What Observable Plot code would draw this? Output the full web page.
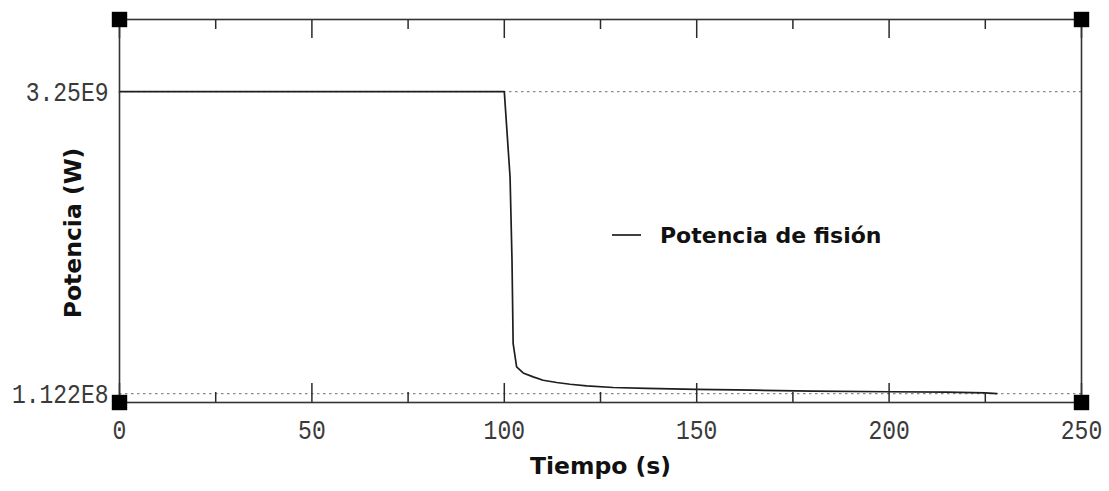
<!DOCTYPE html>
<html>
<head>
<meta charset="utf-8">
<script src="https://cdn.jsdelivr.net/npm/d3@7"></script>
<script src="https://cdn.jsdelivr.net/npm/@observablehq/plot@0.6"></script>
<style>
  body { margin: 0; background: #fff; }
  #chart { position: relative; width: 1109px; height: 491px; }
  #legend { position: absolute; left: 600px; top: 215px; }
</style>
</head>
<body>
<div id="chart"></div>
<script>
// Fission power transient: time (s) and power (W)
const tiempo = [0, 100, 101.5, 102.0, 102.3, 103.2, 104.9, 107.5, 110.1, 113.6, 117.1, 121.4, 128.3, 137, 150, 165, 180, 200, 215, 225, 228];
const potencia = [3.25e9, 3.25e9, 2.36e9, 1.5e9, 6.3e8, 3.89e8, 3.26e8, 2.85e8, 2.5e8, 2.27e8, 2.09e8, 1.91e8, 1.75e8, 1.66e8, 1.55e8, 1.47e8, 1.38e8, 1.31e8, 1.27e8, 1.2e8, 1.122e8];

const xTicks = [0, 50, 100, 150, 200, 250];
const xMinorTicks = [25, 75, 125, 175, 225];
const yTicks = [1.122e8, 3.25e9];
const yTickLabels = ["1.122E8", "3.25E9"];

const serieNombre = "Potencia de fisión";
const xTitulo = "Tiempo (s)";
const yTitulo = "Potencia (W)";

const data = tiempo.map((t, i) => ({t, p: potencia[i]}));

const W = 1109, H = 491;
const mt = 19, mb = 89, ml = 119, mr = 28;
const innerH = H - mt - mb;

const titleFont = {fontFamily: "DejaVu Sans", fontWeight: "bold", fontSize: 23.5, fill: "#111"};
const tickFont = {fontFamily: "Liberation Mono", fontSize: 28, fill: "#3a3a3a"};
const ink = "#2a2a2a";

const corner = (anchor) => Plot.dot([0], {frameAnchor: anchor, symbol: "square", r: 8.7, fill: "#000", stroke: "none"});

const plot = Plot.plot({
  width: W,
  height: H,
  marginTop: mt,
  marginBottom: mb,
  marginLeft: ml,
  marginRight: mr,
  style: {background: "#fff"},
  x: {domain: [0, 250]},
  y: {domain: [1.9e7, 4.0e9]},
  marks: [
    // dotted reference lines at the extreme values
    Plot.ruleY(yTicks, {stroke: "#8a8a8a", strokeWidth: 1.2, strokeDasharray: "2.5,3.5"}),
    Plot.line(data, {x: "t", y: "p", stroke: "#1e1e1e", strokeWidth: 1.7}),
    // inward ticks on bottom and top edges
    Plot.ruleX(xTicks, {stroke: ink, strokeWidth: 1.5, insetTop: innerH - 19}),
    Plot.ruleX(xTicks, {stroke: ink, strokeWidth: 1.5, insetBottom: innerH - 19}),
    Plot.ruleX(xMinorTicks, {stroke: ink, strokeWidth: 1.5, insetTop: innerH - 10}),
    Plot.ruleX(xMinorTicks, {stroke: ink, strokeWidth: 1.5, insetBottom: innerH - 10}),
    Plot.frame({stroke: "#333", strokeWidth: 1.6}),
    Plot.axisX(xTicks, {tickSize: 0, tickPadding: 17, tickFormat: d => String(d), label: null, ...tickFont}),
    Plot.axisY(yTicks, {tickSize: 0, tickPadding: 11, tickFormat: d => yTickLabels[yTicks.indexOf(d)], label: null, ...tickFont}),
    Plot.text([xTitulo], {frameAnchor: "bottom", dy: 71, text: d => d, ...titleFont}),
    Plot.text([yTitulo], {frameAnchor: "left", textAnchor: "middle", dx: -46, dy: 22, rotate: -90, text: d => d, ...titleFont}),
    corner("top-left"),
    corner("top-right"),
    corner("bottom-left"),
    corner("bottom-right")
  ]
});

// condensed monospace tick labels
d3.select(plot).selectAll('g[aria-label$="tick label"] text').each(function () {
  const s = this.textContent;
  this.setAttribute("textLength", (s.length * 13.8).toFixed(1));
  this.setAttribute("lengthAdjust", "spacingAndGlyphs");
});

const chart = document.getElementById("chart");
chart.appendChild(plot);

// series legend inside the plot area
const legend = d3.select(chart).append("svg")
  .attr("id", "legend").attr("width", 320).attr("height", 40);
legend.append("line")
  .attr("x1", 12).attr("x2", 41).attr("y1", 20).attr("y2", 20)
  .attr("stroke", "#1e1e1e").attr("stroke-width", 1.7);
legend.append("text")
  .attr("x", 60).attr("y", 20).attr("dy", "0.35em")
  .attr("font-family", "DejaVu Sans").attr("font-weight", "bold")
  .attr("font-size", 22).attr("fill", "#111")
  .text(serieNombre);
</script>
</body>
</html>
